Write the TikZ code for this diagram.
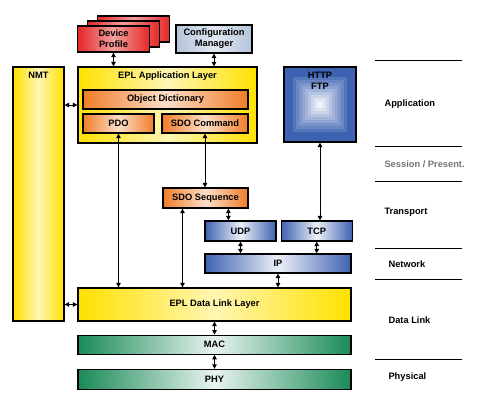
\documentclass[tikz,border=0pt]{standalone}
\usepackage{fontspec}
\setmainfont{Liberation Sans}
\usetikzlibrary{positioning,arrows.meta}
\definecolor{eplyellow}{RGB}{255,225,0}
\definecolor{eplorange}{RGB}{240,125,40}
\definecolor{eplred}{RGB}{228,40,40}
\definecolor{eplgrey}{RGB}{180,196,218}
\definecolor{eplblue}{RGB}{62,98,178}
\definecolor{eplgreen}{RGB}{26,138,88}

\begin{document}
\begin{tikzpicture}[x=1pt,y=-1pt,node distance=13pt,
    font=\fontsize{9.3}{11}\selectfont\bfseries,
    box/.style={draw=black,line width=1.2pt,rectangle,inner sep=0pt,align=center},
    ylwbox/.style={box,left color=eplyellow,right color=eplyellow,middle color=eplyellow!30!white},
    orgbox/.style={box,left color=eplorange,right color=eplorange,middle color=eplorange!25!white,minimum height=19pt},
    redbox/.style={box,left color=eplred,right color=eplred,middle color=eplred!45!white,minimum width=72pt,minimum height=26pt},
    cfgbox/.style={box,left color=eplgrey,right color=eplgrey,middle color=eplgrey!40!white},
    blubox/.style={box,left color=eplblue,right color=eplblue,middle color=eplblue!10!white,minimum height=20pt},
    grnbox/.style={box,left color=eplgreen,right color=eplgreen,middle color=eplgreen!10!white,minimum width=273pt},
    toplabel/.style={anchor=north,yshift=-2pt,align=center},
    layer/.style={anchor=west},
    sep/.style={line width=1pt},
    arr/.style={{Triangle[length=4.5pt,width=4.5pt]}-{Triangle[length=4.5pt,width=4.5pt]},line width=0.9pt}]
\useasboundingbox (0,0) rectangle (489,401);

% device profile stack
\node[redbox] (devback) at (133.5,29) {};
\node[redbox] (devmid) at (123.5,34) {};
\node[redbox] (dev) at (113.5,39) {Device\\Profile};
\node[cfgbox,minimum width=76pt,minimum height=28pt] (cfg) at (214,39) {Configuration\\Manager};

% application layer
\node[ylwbox,minimum width=51pt,minimum height=254pt,
      label={[toplabel]north:NMT}] (nmt) at (38.5,194) {};
\node[ylwbox,minimum width=179pt,minimum height=76pt,
      label={[toplabel]north:EPL Application Layer}] (app) at (167.5,105) {};
\node[orgbox,minimum width=165pt] (objdict) at (165.5,99.5) {Object Dictionary};
\node[orgbox,minimum width=71pt] (pdo) at (118.5,123.5) {PDO};
\node[orgbox,minimum width=86pt] (sdocmd) at (205,123.5) {SDO Command};
\node[box,minimum width=72pt,minimum height=75pt,fill=eplblue,
      path picture={
        \foreach \k in {0,...,8}{
          \pgfmathsetmacro\hw{27-3*\k}
          \pgfmathtruncatemacro\tint{88-10*\k}
          \fill[eplblue!\tint!white]
            ([xshift=-\hw pt,yshift=-\hw pt]path picture bounding box.center) rectangle
            ([xshift=\hw pt,yshift=\hw pt]path picture bounding box.center);
        }},
      label={[toplabel]north:{HTTP\\FTP}}] (http) at (320,104.5) {};

% transport and network
\node[orgbox,minimum width=85pt,minimum height=20pt] (sdoseq) at (205.5,198) {SDO Sequence};
\node[blubox,minimum width=71pt] (udp) at (240.5,231) {UDP};
\node[blubox,minimum width=71pt,right=4pt of udp] (tcp) {TCP};
\node[blubox,minimum width=146pt,minimum height=19pt] (ip) at (278,263.5) {IP};

% data link and physical
\node[ylwbox,minimum width=273pt,minimum height=33pt] (dll) at (214.5,304.5) {EPL Data Link Layer};
\node[grnbox,minimum height=19pt,below=of dll] (mac) {MAC};
\node[grnbox,minimum height=20pt,below=14pt of mac] (phy) {PHY};

\coordinate (udpin) at ([xshift=24pt]udp.north west);
\coordinate (seqout) at ([xshift=-23pt]sdoseq.south);

\path[arr]
    (dev.south) edge (dev.south |- app.north)
    (cfg.south) edge (cfg.south |- app.north)
    (app.west) edge (app.west -| nmt.east)
    (dll.west) edge (dll.west -| nmt.east)
    (pdo.south) edge (pdo.south |- dll.north)
    (sdocmd.south) edge (sdocmd.south |- sdoseq.north)
    (seqout) edge (seqout |- dll.north)
    (udpin) edge (udpin |- sdoseq.south)
    (http.south) edge (http.south |- tcp.north)
    (udp.south) edge (udp.south |- ip.north)
    (tcp.south) edge (tcp.south |- ip.north)
    (ip.south) edge (ip.south |- dll.north)
    (dll.south) edge (mac.north)
    (mac.south) edge (phy.north);

% OSI layers
\foreach \ly in {61,146,181,248,279,359}
    \draw[sep] (375,\ly) -- (462,\ly);
\node[layer] (lapp) at (381,104) {Application};
\node[layer,text=black!55] (lses) at (381,164) {Session / Present.};
\node[layer] (ltrn) at (381,212) {Transport};
\node[layer] (lnet) at (385,264) {Network};
\node[layer] (ldl) at (385,320) {Data Link};
\node[layer] (lphy) at (385,377) {Physical};
\end{tikzpicture}
\end{document}
